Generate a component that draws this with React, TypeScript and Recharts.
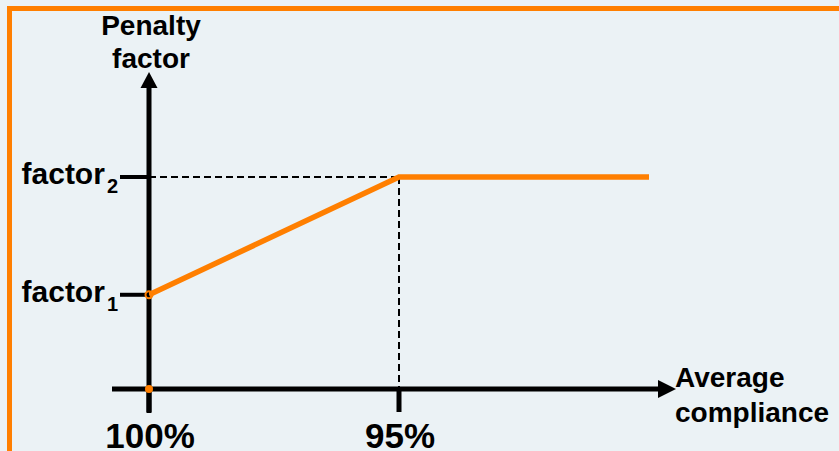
import React from 'react';
import {
  LineChart,
  Line,
  XAxis,
  YAxis,
  ReferenceLine,
  ReferenceDot,
  Customized,
} from 'recharts';

// Penalty factor as a function of average compliance
const complianceLevels = [100, 95, 90];
const penaltyFactors = [0.8, 1.8, 1.8];

// Axis ticks
const complianceTicks = [100, 95];
const complianceTickLabels = ['100%', '95%'];
const factorTicks = [0.8, 1.8];
const factorTickSubscripts = ['1', '2'];

// Axis titles
const yTitleLines = ['Penalty', 'factor'];
const xTitleLines = ['Average', 'compliance'];

const W = 839;
const H = 451;
const ORANGE = '#FF7F00';
const BG = '#EBF2F5';
const FONT = '"Liberation Sans", Arial, Helvetica, sans-serif';

const data = complianceLevels.map((c, i) => ({ compliance: c, factor: penaltyFactors[i] }));

const XTick = (props: any) => {
  const { x, y, payload } = props;
  const i = complianceTicks.indexOf(payload.value);
  return (
    <text x={x + 1} y={y + 34} textAnchor="middle" fontFamily={FONT} fontWeight="bold" fontSize={35} fill="#000">
      {complianceTickLabels[i]}
    </text>
  );
};

const YTick = (props: any) => {
  const { x, y, payload } = props;
  const i = factorTicks.indexOf(payload.value);
  return (
    <text x={x} y={y + 7} textAnchor="end" fontFamily={FONT} fontWeight="bold" fontSize={30} fill="#000">
      factor
      <tspan dx={2} dy={9} fontSize={20}>
        {factorTickSubscripts[i]}
      </tspan>
    </text>
  );
};

// Vertical axis with an arrow head, extended below the horizontal axis
const YAxisArrow = (props: any) => {
  const { x1, y1, y2 } = props;
  const top = Math.min(y1, y2);
  const bottom = Math.max(y1, y2);
  return (
    <g>
      <line x1={x1} x2={x1} y1={bottom + 24} y2={top + 14} stroke="#000" strokeWidth={5} />
      <polygon points={`${x1},${top + 1} ${x1 - 8.5},${top + 17} ${x1 + 8.5},${top + 17}`} fill="#000" />
    </g>
  );
};

// Horizontal axis with an arrow head, extended left of the vertical axis
const XAxisArrow = (props: any) => {
  const { x1, x2, y1 } = props;
  const left = Math.min(x1, x2);
  const right = Math.max(x1, x2);
  return (
    <g>
      <line x1={left - 37} x2={right + 12} y1={y1} y2={y1} stroke="#000" strokeWidth={5} />
      <polygon points={`${right + 27},${y1} ${right + 9},${y1 - 9} ${right + 9},${y1 + 9}`} fill="#000" />
    </g>
  );
};

const Titles = () => (
  <g fontFamily={FONT} fontWeight="bold" fontSize={28} fill="#000">
    <text x={151} y={35} textAnchor="middle">{yTitleLines[0]}</text>
    <text x={151} y={68} textAnchor="middle">{yTitleLines[1]}</text>
    <text x={675} y={387} textAnchor="start">{xTitleLines[0]}</text>
    <text x={675} y={422} textAnchor="start">{xTitleLines[1]}</text>
  </g>
);

export default function App() {
  const knee = data[1];
  return (
    <div style={{ position: 'fixed', left: 0, top: 0, width: W, height: H, background: BG, overflow: 'hidden' }}>
      <div
        style={{
          position: 'absolute',
          left: 7,
          top: 6,
          right: -20,
          bottom: -20,
          borderLeft: `5px solid ${ORANGE}`,
          borderTop: `5px solid ${ORANGE}`,
        }}
      />
      <div style={{ position: 'absolute', left: 0, top: 0 }}>
        <LineChart width={W} height={H} data={data} margin={{ top: 71, right: 190, bottom: 0, left: 0 }}>
          <XAxis
            dataKey="compliance"
            type="number"
            domain={[90, 100]}
            reversed
            allowDataOverflow
            ticks={complianceTicks}
            interval={0}
            height={62}
            tickSize={23}
            tickMargin={2}
            axisLine={false}
            tickLine={{ stroke: '#000', strokeWidth: 5 }}
            tick={<XTick />}
          />
          <YAxis
            type="number"
            domain={[0, 2.7]}
            allowDataOverflow
            ticks={factorTicks}
            interval={0}
            width={149}
            tickSize={29}
            tickMargin={2}
            axisLine={false}
            tickLine={{ stroke: '#000', strokeWidth: 4 }}
            tick={<YTick />}
          />
          <ReferenceLine x={100} ifOverflow="visible" shape={<YAxisArrow />} />
          <ReferenceLine y={0} ifOverflow="visible" shape={<XAxisArrow />} />
          <ReferenceLine
            segment={[
              { x: complianceLevels[0], y: knee.factor },
              { x: knee.compliance, y: knee.factor },
            ]}
            ifOverflow="visible"
            stroke="#000"
            strokeWidth={2}
            strokeDasharray="7 4"
          />
          <ReferenceLine
            segment={[
              { x: knee.compliance, y: knee.factor },
              { x: knee.compliance, y: 0 },
            ]}
            ifOverflow="visible"
            stroke="#000"
            strokeWidth={2}
            strokeDasharray="7 4"
          />
          <Line
            type="linear"
            dataKey="factor"
            stroke={ORANGE}
            strokeWidth={5.5}
            dot={false}
            activeDot={false}
            isAnimationActive={false}
          />
          <ReferenceDot
            x={complianceLevels[0]}
            y={penaltyFactors[0]}
            r={3.5}
            fill="none"
            stroke={ORANGE}
            strokeWidth={2}
            ifOverflow="visible"
          />
          <ReferenceDot x={complianceLevels[0]} y={0} r={4} fill={ORANGE} stroke="none" ifOverflow="visible" />
          <Customized component={<Titles />} />
        </LineChart>
      </div>
    </div>
  );
}
